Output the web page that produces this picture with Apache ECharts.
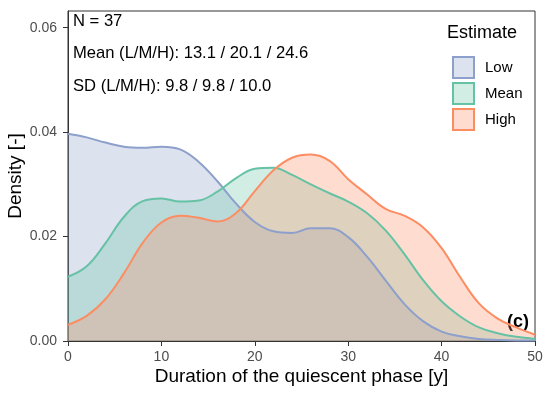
<!DOCTYPE html>
<html>
<head>
<meta charset="utf-8">
<script src="https://cdn.jsdelivr.net/npm/echarts@6/dist/echarts.min.js"></script>
<style>html,body{margin:0;padding:0;background:#fff}#c{width:550px;height:395px}</style>
</head>
<body>
<div id="c"></div>
<script>
var durations = [0,2,4,6,8,10,12,14,16,18,20,22,24,26,28,30,32,34,36,38,40,42,44,46,48,50];
var densityLow  = [0.0397,0.0390,0.0380,0.0372,0.0370,0.0372,0.0367,0.0343,0.0306,0.0263,0.0228,0.0210,0.0207,0.0216,0.0216,0.0199,0.0162,0.0116,0.0071,0.0038,0.0018,0.0009,0.0004,0.0002,0.0001,0.0001];
var densityMean = [0.0123,0.0143,0.0187,0.0238,0.0268,0.0273,0.0267,0.0269,0.0286,0.0312,0.0330,0.0332,0.0318,0.0300,0.0283,0.0267,0.0245,0.0212,0.0167,0.0117,0.0076,0.0047,0.0026,0.0015,0.0008,0.0004];
var densityHigh = [0.0031,0.0048,0.0080,0.0130,0.0188,0.0227,0.0240,0.0236,0.0229,0.0245,0.0287,0.0327,0.0351,0.0357,0.0345,0.0310,0.0281,0.0253,0.0240,0.0218,0.0178,0.0122,0.0072,0.0043,0.0026,0.0012];
var estimates = ['Low','Mean','High'];
var xTicks = [0,10,20,30,40,50];
var yTicks = [0,0.02,0.04,0.06];
var annotations = ['N = 37','Mean (L/M/H): 13.1 / 20.1 / 24.6','SD (L/M/H): 9.8 / 9.8 / 10.0'];

var colors = {Low:'#8DA0CB', Mean:'#66C2A5', High:'#FC8D62'};
var fills = {Low:'rgba(141,160,203,0.3)', Mean:'rgba(102,194,165,0.3)', High:'rgba(252,141,98,0.3)'};
var FONT = 'Liberation Sans, Arial, Helvetica, sans-serif';

function pairs(ys){ return durations.map(function(x,i){return [x, ys[i]];}); }
var seriesData = {Low: densityLow, Mean: densityMean, High: densityHigh};

var chart = echarts.init(document.getElementById('c'));
chart.setOption({
  animation:false,
  textStyle:{fontFamily:FONT},
  grid:{left:68,right:15,top:11,bottom:54,containLabel:false,outerBoundsMode:'none',show:true,borderColor:'#333333',borderWidth:1,backgroundColor:'transparent'},
  xAxis:{
    type:'value',min:0,max:50,interval:10,
    name:'Duration of the quiescent phase [y]',nameLocation:'middle',nameGap:26,nameMoveOverlap:false,
    nameTextStyle:{fontSize:19,color:'#000',fontFamily:FONT},
    axisLine:{show:true,lineStyle:{color:'#333333',width:1}},
    axisTick:{show:true,length:5,lineStyle:{color:'#333333',width:1},customValues:xTicks},
    axisLabel:{fontSize:14,color:'#4D4D4D',margin:9,fontFamily:FONT,customValues:xTicks},
    splitLine:{show:false}
  },
  yAxis:{
    type:'value',min:0,max:0.0632,
    name:'Density [-]',nameLocation:'middle',nameGap:43,nameMoveOverlap:false,
    nameTextStyle:{fontSize:19,color:'#000',fontFamily:FONT},
    axisLine:{show:true,lineStyle:{color:'#333333',width:1}},
    axisTick:{show:true,length:5,lineStyle:{color:'#333333',width:1},customValues:yTicks},
    axisLabel:{fontSize:14,color:'#4D4D4D',margin:11,fontFamily:FONT,customValues:yTicks,
      formatter:function(v){return v.toFixed(2);}},
    splitLine:{show:false}
  },
  legend:{
    orient:'vertical',left:447,top:51,itemWidth:21,itemHeight:21,itemGap:3,icon:'rect',
    textStyle:{fontSize:15,color:'#000',fontFamily:FONT,padding:[0,0,0,6]},
    data:estimates.map(function(n){return {name:n,icon:'rect',itemStyle:{color:fills[n],borderColor:colors[n],borderWidth:2}};})
  },
  graphic:[
    {type:'text',left:73,top:13,style:{text:annotations[0],fontSize:16.6,fill:'#000',fontFamily:FONT}},
    {type:'text',left:73,top:45,style:{text:annotations[1],fontSize:16.6,fill:'#000',fontFamily:FONT}},
    {type:'text',left:73,top:78,style:{text:annotations[2],fontSize:16.6,fill:'#000',fontFamily:FONT}},
    {type:'text',left:447,top:24,style:{text:'Estimate',fontSize:18,fill:'#000',fontFamily:FONT}},
    {type:'text',left:507,top:313,style:{text:'(c)',fontSize:18,fontWeight:'bold',fill:'#000',fontFamily:FONT}}
  ],
  series:estimates.map(function(n){
    return {
      name:n,type:'line',data:pairs(seriesData[n]),smooth:0.4,
      symbol:'none',showSymbol:false,
      lineStyle:{color:colors[n],width:2},
      itemStyle:{color:colors[n]},
      areaStyle:{color:fills[n],opacity:1},
      z:2
    };
  })
});
</script>
</body>
</html>
